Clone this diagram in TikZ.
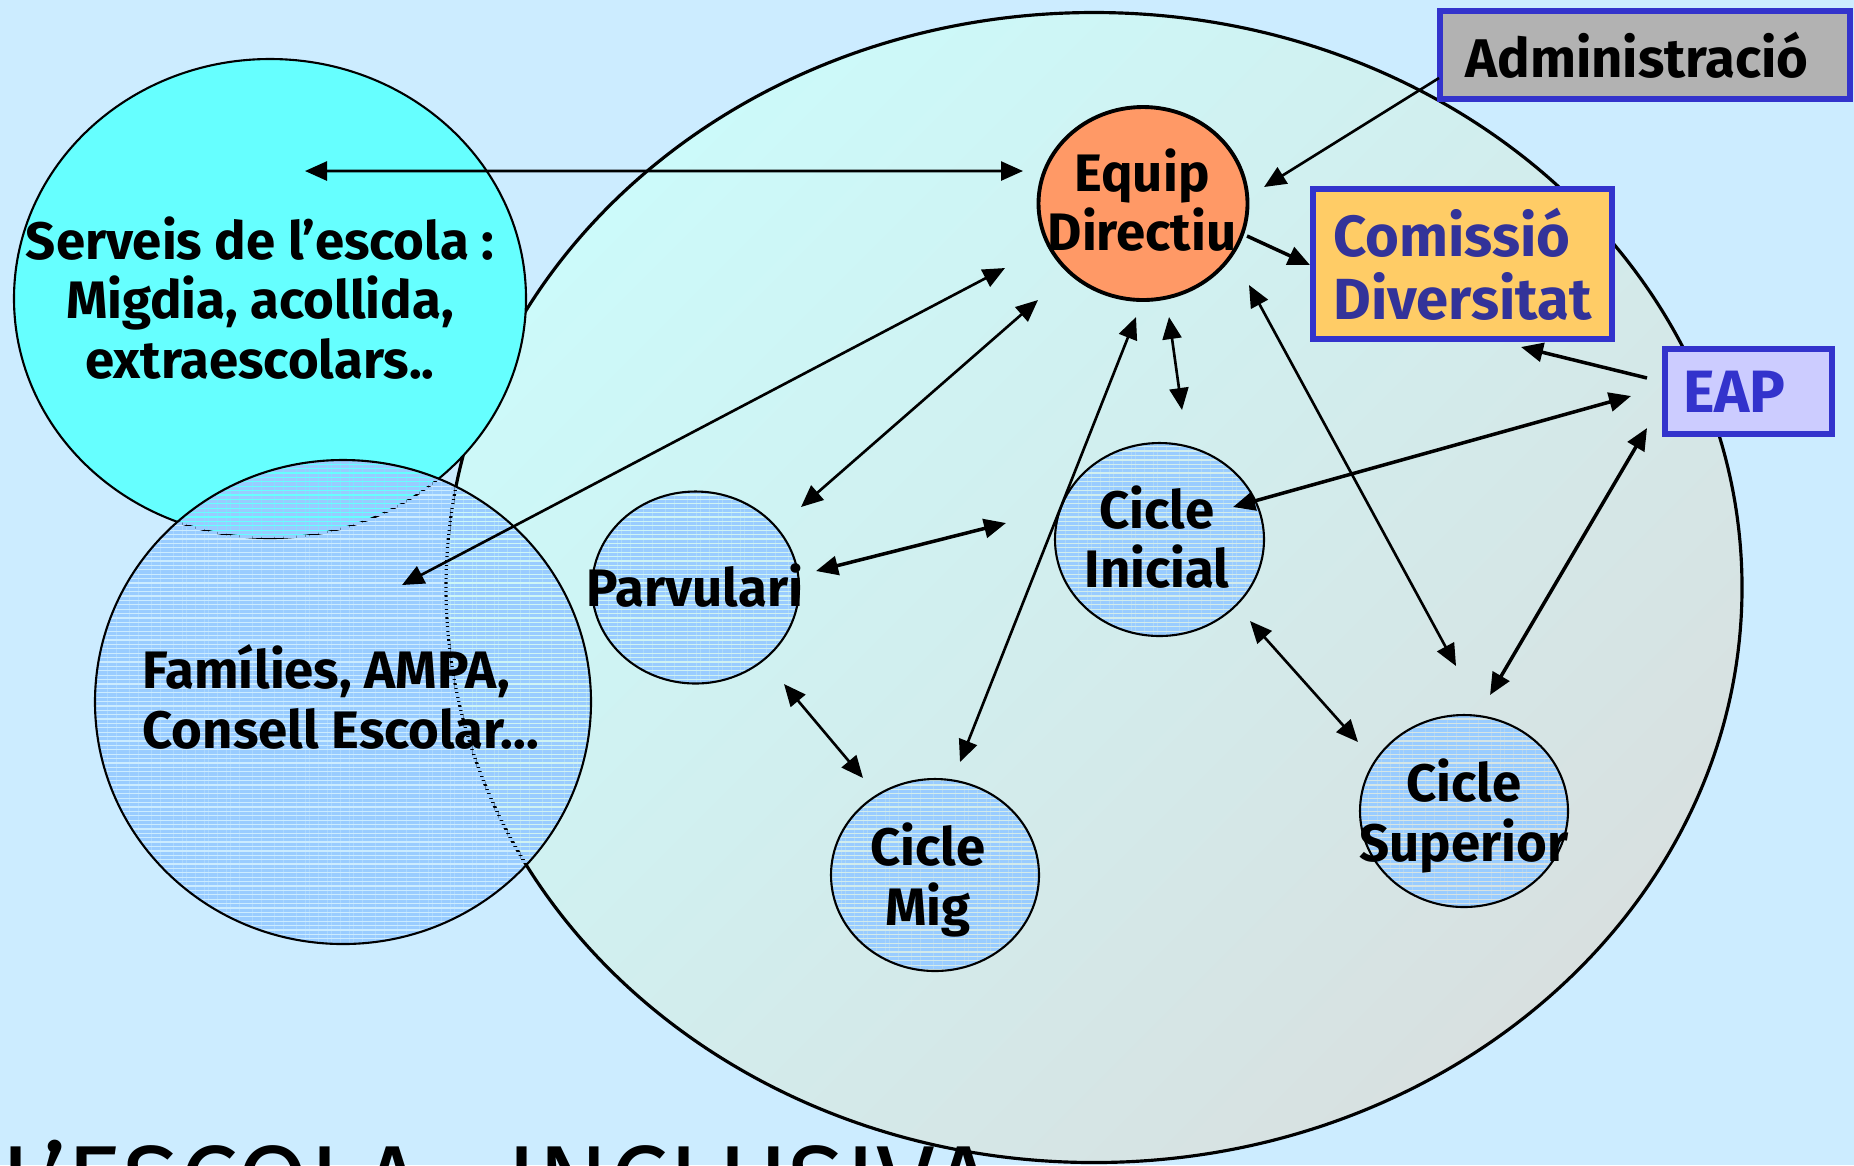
\documentclass[tikz,border=0pt]{standalone}
\usepackage{fontspec}
\setmainfont{Fira Sans}
\usetikzlibrary{shapes.geometric,arrows.meta,patterns.meta}

\definecolor{bgblue}{RGB}{204,236,255}
\definecolor{schoolA}{RGB}{204,250,250}
\definecolor{schoolB}{RGB}{216,224,224}
\definecolor{servcyan}{RGB}{102,255,255}
\definecolor{stripeblue}{RGB}{153,204,255}
\definecolor{equiporange}{RGB}{255,153,102}
\definecolor{admgray}{RGB}{178,178,178}
\definecolor{comisyellow}{RGB}{255,204,102}
\definecolor{eaplilac}{RGB}{204,204,255}
\definecolor{frameblue}{RGB}{51,51,204}
\definecolor{inkblue}{RGB}{51,51,153}

\tikzset{
  circ/.style={ellipse, draw=black, line width=0.6pt, inner sep=0pt},
  striped/.style={circ, pattern={Lines[angle=0,distance=1.25pt,line width=0.9pt]}, pattern color=stripeblue},
  lbl/.style={font=\fontsize{15}{17}\selectfont\bfseries, align=center, inner sep=0pt},
  boxnode/.style={rectangle, draw=frameblue, line width=1.6pt, inner sep=0pt},
  lnk/.style={line width=0.75pt, >={Triangle[length=2.2mm,width=1.9mm]}},
  lnkb/.style={lnk, line width=1pt}
}

\begin{document}
\begin{tikzpicture}
  \useasboundingbox (0,0) rectangle (18.54,-11.65);
  \clip (0,0) rectangle (18.54,-11.65);
  \fill[bgblue] (0,0) rectangle (18.54,-11.65);

  % the school
  \shade[top color=schoolA, bottom color=schoolB, shading angle=45] (10.94,-5.875) ellipse (6.48 and 5.75);
  \draw[line width=0.9pt] (10.94,-5.875) ellipse (6.48 and 5.75);

  % outer circles
  \node[circ, fill=servcyan, minimum width=5.12cm, minimum height=4.79cm] (serveis) at (2.70,-2.985) {};
  \node[striped, minimum width=4.96cm, minimum height=4.84cm] (famil) at (3.43,-7.02) {};

  % cycles
  \node[striped, minimum width=2.07cm, minimum height=1.92cm] (parv) at (6.955,-5.875) {};
  \node[striped, minimum width=2.09cm, minimum height=1.93cm] (inicial) at (11.595,-5.395) {};
  \node[striped, minimum width=2.08cm, minimum height=1.92cm] (mig) at (9.35,-8.75) {};
  \node[striped, minimum width=2.08cm, minimum height=1.92cm] (superior) at (14.64,-8.11) {};
  \node[circ, fill=equiporange, line width=1.1pt, minimum width=2.09cm, minimum height=1.93cm] (equip) at (11.43,-2.035) {};

  % boxes
  \node[boxnode, fill=admgray, minimum width=4.10cm, minimum height=0.88cm,
        font=\fontsize{15.5}{18}\selectfont\bfseries] (admin) at (16.45,-0.55) {\kern-0.16cm Administració};
  \node[boxnode, fill=comisyellow, minimum width=2.99cm, minimum height=1.50cm, align=left,
        text=inkblue, font=\fontsize{16.5}{18}\selectfont\bfseries] (comis) at (14.625,-2.64) {Comissió\\Diversitat};
  \node[boxnode, fill=eaplilac, minimum width=1.67cm, minimum height=0.85cm,
        text=frameblue, font=\fontsize{17}{20}\selectfont\bfseries] (eap) at (17.485,-3.915) {\kern-0.28cm EAP};

  % connections
  \draw[lnk,<->] ([shift={(0.35,1.275)}]serveis.center) -- ([shift={(-1.20,0.325)}]equip.center);
  \draw[lnk,<->] ([shift={(-1.38,-0.645)}]equip.center) -- ([shift={(0.59,1.17)}]famil.center);
  \draw[lnk,<->] ([shift={(-1.05,-0.965)}]equip.center) -- ([shift={(1.055,0.805)}]parv.center);
  \draw[lnkb,<->] ([shift={(1.205,0.165)}]parv.center) -- ([shift={(-1.535,0.165)}]inicial.center);
  \draw[lnk,<->] ([shift={(0.885,-0.965)}]parv.center) -- ([shift={(-0.72,0.97)}]mig.center);
  \draw[lnk,<->] ([shift={(-0.07,-1.135)}]equip.center) -- ([shift={(0.25,1.13)}]mig.center);
  \draw[lnk,<->] ([shift={(0.26,-1.135)}]equip.center) -- ([shift={(0.225,1.295)}]inicial.center);
  \draw[lnk,<->] ([shift={(1.06,-0.815)}]equip.center) -- ([shift={(-0.08,1.45)}]superior.center);
  \draw[lnkb,->] ([shift={(1.04,-0.325)}]equip.center) -- ([shift={(-1.525,-0.01)}]comis.center);
  \draw[lnk,->] ([shift={(-2.06,-0.23)}]admin.center) -- ([shift={(1.21,0.165)}]equip.center);
  \draw[lnkb,->] ([shift={(-1.015,0.135)}]eap.center) -- ([shift={(0.585,-0.83)}]comis.center);
  \draw[lnkb,<->] ([shift={(0.735,0.325)}]inicial.center) -- ([shift={(-1.175,-0.045)}]eap.center);
  \draw[lnkb,<->] ([shift={(-1.015,-0.365)}]eap.center) -- ([shift={(0.26,1.16)}]superior.center);
  \draw[lnk,<->] ([shift={(0.905,-0.815)}]inicial.center) -- ([shift={(-1.06,0.69)}]superior.center);

  % texts
  \node[lbl] (serveisT) at (2.60,-2.98) {Serveis de l’escola :\\Migdia, acollida,\\extraescolars..};
  \node[lbl, align=left, anchor=west] (familT) at (1.42,-6.97) {Famílies, AMPA,\\Consell Escolar...};
  \node[lbl] (equipT) at (11.42,-2.00) {Equip\\Directiu};
  \node[lbl] (parvT) at (6.95,-5.86) {Parvulari};
  \node[lbl] (inicialT) at (11.57,-5.37) {Cicle\\Inicial};
  \node[lbl] (migT) at (9.28,-8.80) {Cicle\\Mig};
  \node[lbl] (superiorT) at (14.64,-8.16) {Cicle\\Superior};

  \node[anchor=base west, inner sep=0pt, font=\fontsize{30}{32}\selectfont] (title) at (0.0,-12.19) {L’ESCOLA\hspace{0.8em}INCLUSIVA};
\end{tikzpicture}
\end{document}
